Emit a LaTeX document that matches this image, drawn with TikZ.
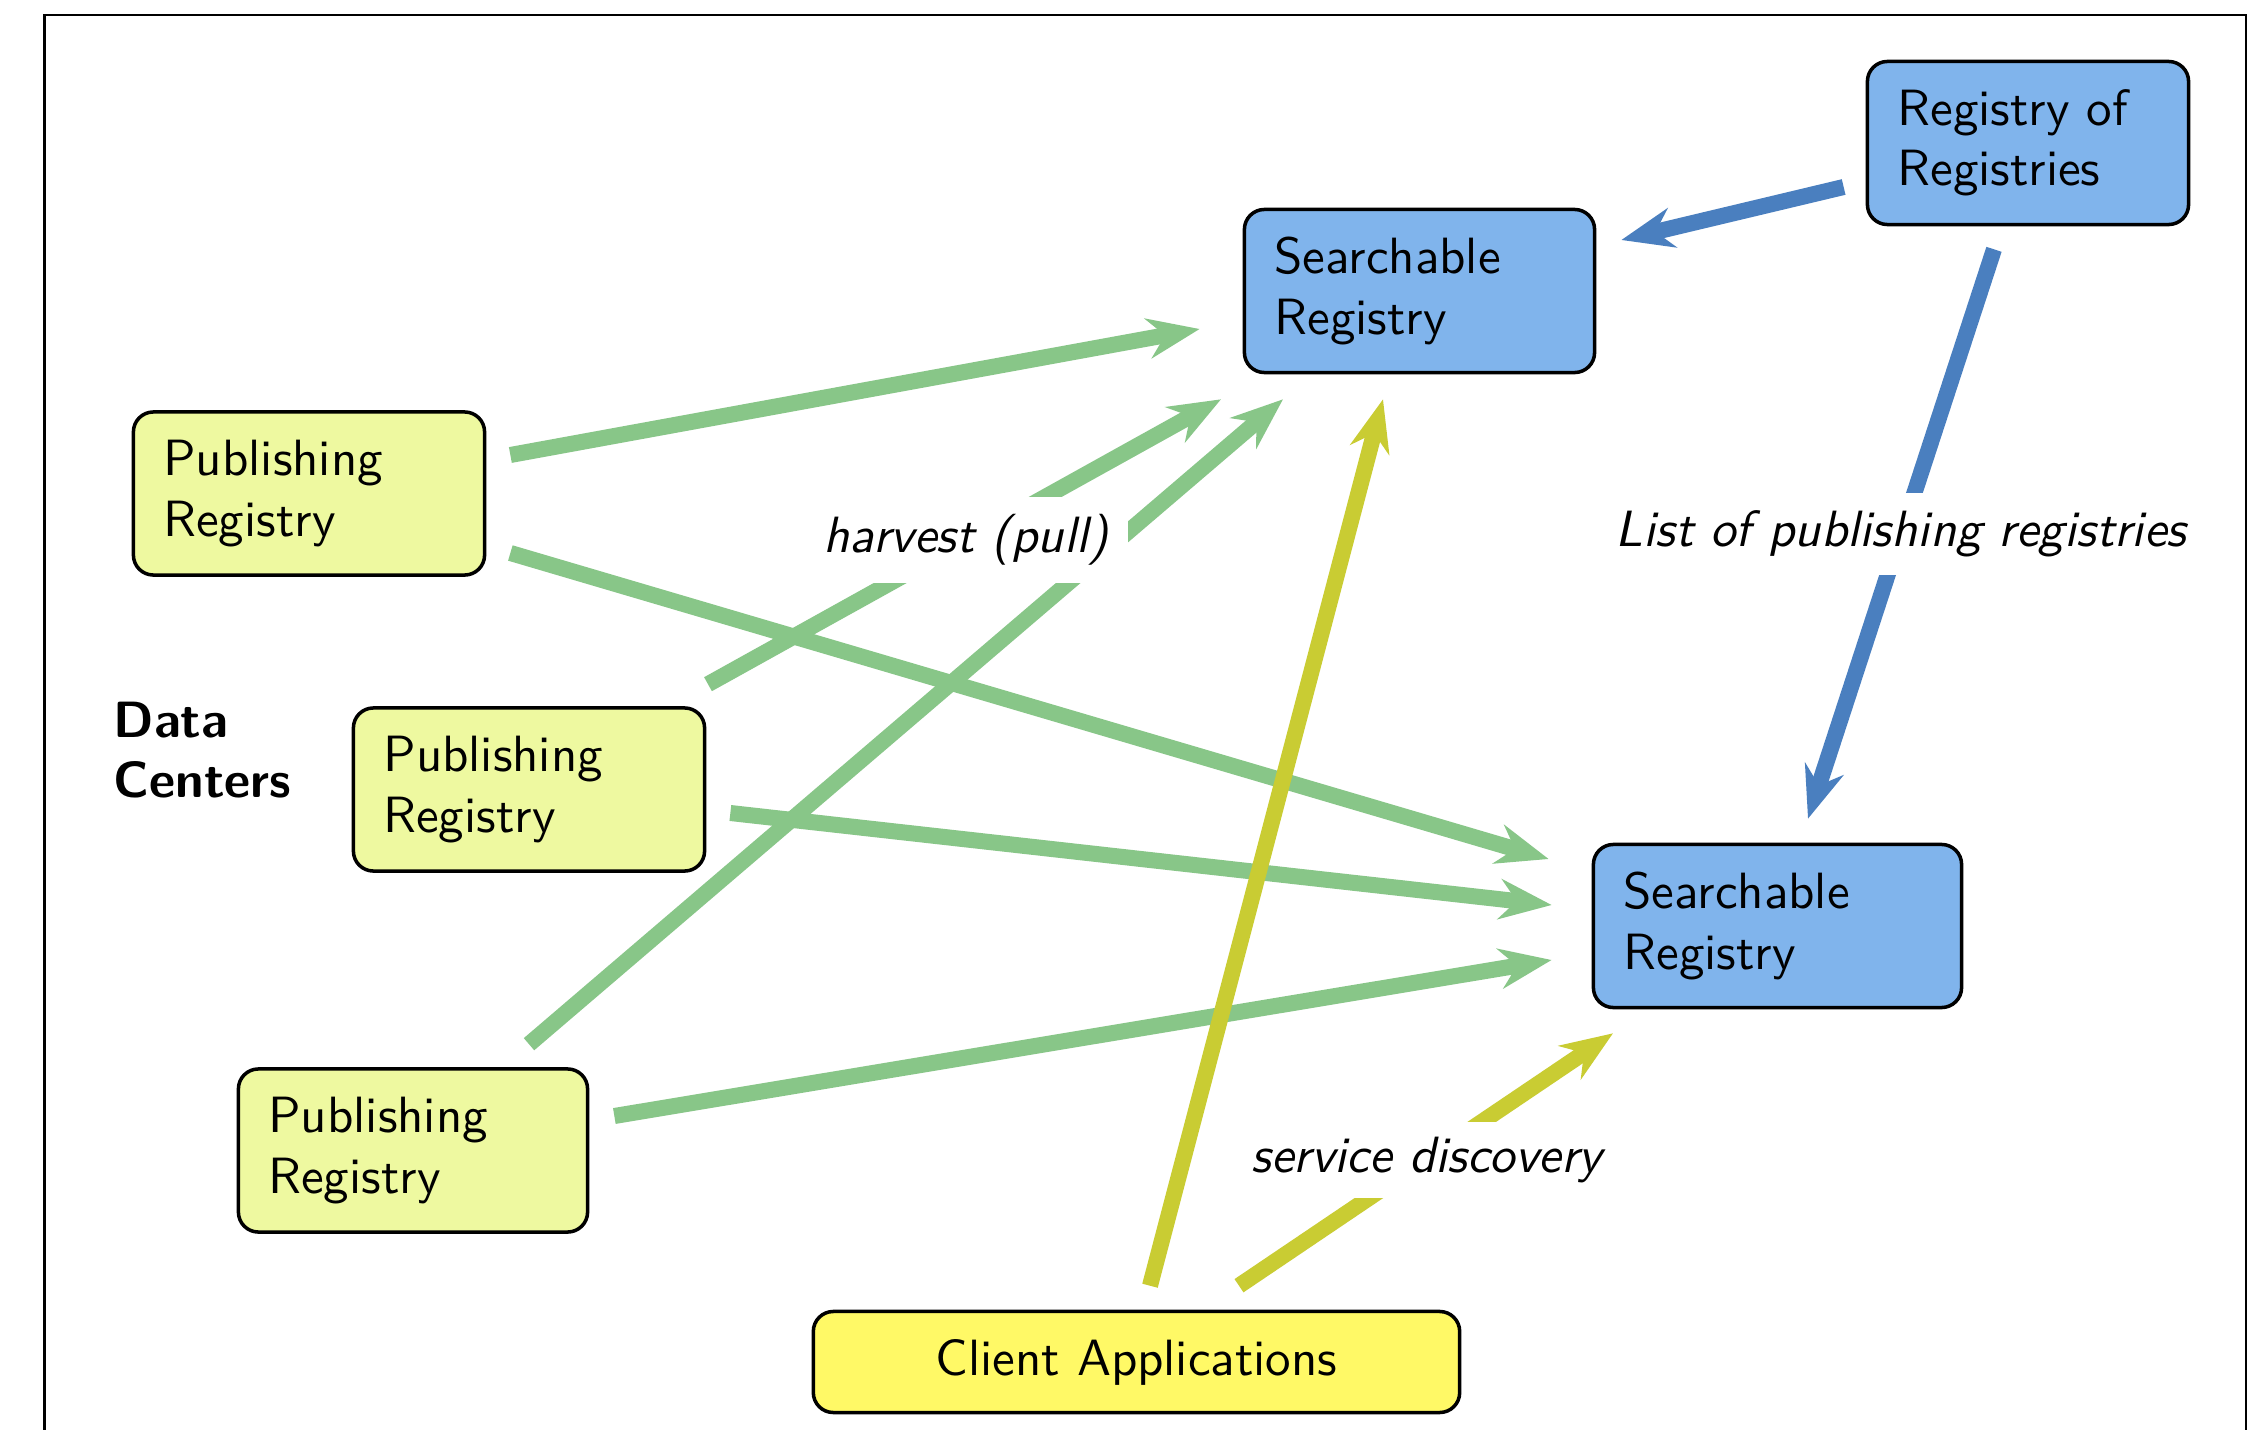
\documentclass[tikz,border=0pt]{standalone}
\usepackage{fontspec}
\setsansfont{lmsans10-regular.otf}[ItalicFont=lmsans10-oblique.otf, BoldFont=lmsans10-bold.otf, BoldItalicFont=lmsans10-boldoblique.otf]
\renewcommand{\familydefault}{\sfdefault}
\usetikzlibrary{arrows.meta,calc}
\definecolor{boxblue}{RGB}{128,180,236}
\definecolor{pubfill}{RGB}{238,249,160}
\definecolor{clientfill}{RGB}{255,249,102}
\definecolor{arrgreen}{RGB}{136,198,136}
\definecolor{arrolive}{RGB}{201,204,51}
\definecolor{arrblue}{RGB}{74,127,191}
\newcommand{\basefont}{\sffamily\fontsize{14.5pt}{17.2pt}\selectfont}
\begin{document}
\begin{tikzpicture}[x=0.01cm,y=-0.01cm,
  boxbase/.style={draw=black, line width=1pt, rounded corners=0.2cm, font=\basefont,
    inner xsep=0.3cm, inner ysep=0pt, minimum height=1.63cm, align=left},
  pubbox/.style={boxbase, fill=pubfill, text width=2.91cm},
  srbox/.style={boxbase, fill=boxblue},
  clientbox/.style={boxbase, fill=clientfill, align=center, minimum width=6.46cm, minimum height=1.01cm},
  conn/.style={line width=0.16cm, -{Stealth[length=0.52cm,width=0.4cm,inset=0.17cm]}},
  lbl/.style={fill=white, font=\basefont\itshape, inner xsep=0.2cm}
]
\useasboundingbox (0,0) rectangle (2253,1430);
\fill[white] (0,0) rectangle (2253,1430);
\draw[line width=0.8pt] (44.5,1460) -- (44.5,15) -- (2246,15) -- (2246,1460);

% nodes
\node[pubbox] (P1) at (309,493.5) {Publishing\\Registry};
\node[pubbox] (P2) at (529,789.5) {Publishing\\Registry};
\node[pubbox, text width=2.89cm] (P3) at (413,1150.5) {Publishing\\Registry};
\node[srbox, text width=2.90cm] (S1) at (1419.5,291) {Searchable\\Registry};
\node[srbox, text width=3.08cm] (S2) at (1777.5,926) {Searchable\\Registry};
\node[srbox, text width=2.61cm] (R) at (2028,143) {Registry of\\Registries};
\node[clientbox] (C) at (1136.5,1362) {Client Applications};
\node[font=\basefont\bfseries, align=left, anchor=west, inner sep=0pt] (DC) at (113,750) {Data\\Centers};

% green harvest arrows
\draw[conn, arrgreen] ([shift={(24,-38.5)}]P1.east) -- ([shift={(-43,38)}]S1.west);
\draw[conn, arrgreen] ([shift={(24,59.5)}]P1.east) -- ([shift={(-43,-67)}]S2.west);
\draw[conn, arrgreen] ([shift={(179,-22)}]P2.north) -- ([shift={(-198.5,25)}]S1.south);
\draw[conn, arrgreen] ([shift={(24,23.5)}]P2.east) -- ([shift={(-40,-21)}]S2.west);
\draw[conn, arrgreen] ([shift={(116,-23)}]P3.north) -- ([shift={(-136.5,25)}]S1.south);
\draw[conn, arrgreen] ([shift={(25,-34.5)}]P3.east) -- ([shift={(-40,34)}]S2.west);

% client arrows
\draw[conn, arrolive] ([shift={(13.5,-24)}]C.north) -- ([shift={(-36.5,25)}]S1.south);
\draw[conn, arrolive] ([shift={(102.5,-24)}]C.north) -- ([shift={(-164.5,24)}]S2.south);

% registry of registries arrows
\draw[conn, arrblue] ([shift={(-22,44)}]R.west) -- ([shift={(25,-51)}]S1.east);
\draw[conn, arrblue] ([shift={(-34,23)}]R.south) -- ([shift={(30.5,-24)}]S2.north);

% labels
\node[lbl, inner ysep=0.17cm] (L1) at (966,540) {harvest (pull)};
\node[lbl, inner ysep=0.18cm] (L2) at (1901,534) {List of publishing registries};
\node[lbl, inner ysep=0.15cm] (L3) at (1427,1160) {service discovery};
\end{tikzpicture}
\end{document}
